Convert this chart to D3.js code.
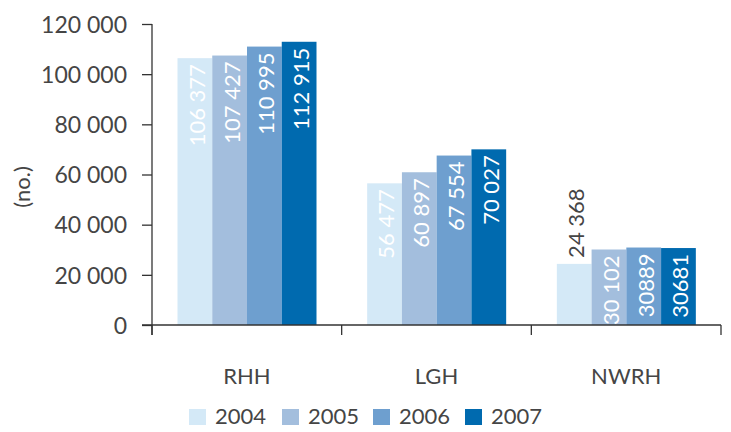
<!DOCTYPE html>
<html>
<head>
<meta charset="utf-8">
<script src="https://cdn.jsdelivr.net/npm/d3@7"></script>
<style>
  body { margin: 0; background: #fff; }
  text { font-family: Lato, "Open Sans", sans-serif; }
</style>
</head>
<body>
<div class="chart"></div>
<script>
var svgWidth = 731;
var svgHeight = 432;

// data
var categories = ["RHH", "LGH", "NWRH"];
var years = ["2004", "2005", "2006", "2007"];
var values2004 = [106377, 56477, 24368];
var values2005 = [107427, 60897, 30102];
var values2006 = [110995, 67554, 30889];
var values2007 = [112915, 70027, 30681];
var valueLabels = [
  ["106 377", "107 427", "110 995", "112 915"],
  ["56 477", "60 897", "67 554", "70 027"],
  ["24 368", "30 102", "30889", "30681"]
];
var yTicks = [0, 20000, 40000, 60000, 80000, 100000, 120000];
var colors = ["#d4e9f7", "#a3bedd", "#6e9fcf", "#006aaf"];

var series = [values2004, values2005, values2006, values2007];
var rows = [];
categories.forEach(function(c, i) {
  years.forEach(function(y, j) {
    rows.push({cat: c, year: y, value: series[j][i], label: valueLabels[i][j], k: j});
  });
});

var svg = d3.select(".chart")
  .append("svg")
  .attr("width", svgWidth)
  .attr("height", svgHeight);

var textColor = "#454545";
var axisColor = "#333";

// scales
var x0 = d3.scaleBand().domain(categories).range([152, 721]);
var x1 = d3.scaleBand().domain(years).range([25.5, 164.5]);
var y = d3.scaleLinear().domain([0, 120000]).range([325, 24]);

var fmt = function(d) { return d3.format(",")(d).replace(/,/g, " "); };

// y axis
var yAxis = svg.append("g")
  .attr("transform", "translate(152,0)")
  .call(d3.axisLeft(y).tickValues(yTicks).tickSize(10).tickPadding(15).tickFormat(fmt));
yAxis.select(".domain").remove();
yAxis.selectAll("line").attr("stroke", axisColor).attr("stroke-width", 1.3);
yAxis.selectAll("text")
  .attr("fill", textColor)
  .style("font-size", "23px")
  .attr("dy", "0.36em");

svg.append("line")
  .attr("x1", 152).attr("x2", 152)
  .attr("y1", y(120000)).attr("y2", 335)
  .attr("stroke", axisColor).attr("stroke-width", 1.3);

svg.append("text")
  .attr("transform", "translate(30," + 187 + ") rotate(-90)")
  .attr("text-anchor", "middle")
  .attr("fill", textColor)
  .style("font-size", "22px")
  .text("(no.)");

// bars
var bars = svg.append("g");
bars.selectAll("rect")
  .data(rows)
  .enter()
  .append("rect")
  .attr("x", d => x0(d.cat) + x1(d.year))
  .attr("y", d => y(d.value))
  .attr("width", x1.bandwidth())
  .attr("height", d => y(0) - y(d.value))
  .attr("fill", d => colors[d.k]);

// value labels, rotated
bars.selectAll(".label")
  .data(rows)
  .enter()
  .append("text")
  .attr("class", "label")
  .attr("transform", function(d) {
    var cx = x0(d.cat) + x1(d.year) + x1.bandwidth() / 2 + 2;
    var top = y(d.value);
    var inside = d.value > 28000;
    return "translate(" + cx + "," + (inside ? top + 6 : top - 6) + ") rotate(-90)";
  })
  .attr("text-anchor", d => d.value > 28000 ? "end" : "start")
  .attr("dy", "0.36em")
  .attr("fill", d => d.value > 28000 ? "#fff" : textColor)
  .style("font-size", "22px")
  .text(d => d.label);

// x axis
svg.append("line")
  .attr("x1", 142).attr("x2", 721)
  .attr("y1", 325).attr("y2", 325)
  .attr("stroke", axisColor).attr("stroke-width", 1.3);

var xTickPos = categories.map(c => x0(c)).concat([x0.range()[1]]);
svg.selectAll(".xtick")
  .data(xTickPos)
  .enter()
  .append("line")
  .attr("class", "xtick")
  .attr("x1", d => d).attr("x2", d => d)
  .attr("y1", 325).attr("y2", 335)
  .attr("stroke", axisColor).attr("stroke-width", 1.3);

svg.selectAll(".catlabel")
  .data(categories)
  .enter()
  .append("text")
  .attr("class", "catlabel")
  .attr("x", d => x0(d) + x0.bandwidth() / 2)
  .attr("y", 384)
  .attr("text-anchor", "middle")
  .attr("fill", textColor)
  .style("font-size", "22px")
  .text(d => d);

// legend
var legendX = [189, 282, 373, 465];
var legend = svg.append("g");
years.forEach(function(yr, i) {
  legend.append("rect")
    .attr("x", legendX[i]).attr("y", 409)
    .attr("width", 17).attr("height", 16)
    .attr("fill", colors[i]);
  legend.append("text")
    .attr("x", legendX[i] + 26).attr("y", 424)
    .attr("fill", textColor)
    .style("font-size", "22px")
    .text(yr);
});
</script>
</body>
</html>
